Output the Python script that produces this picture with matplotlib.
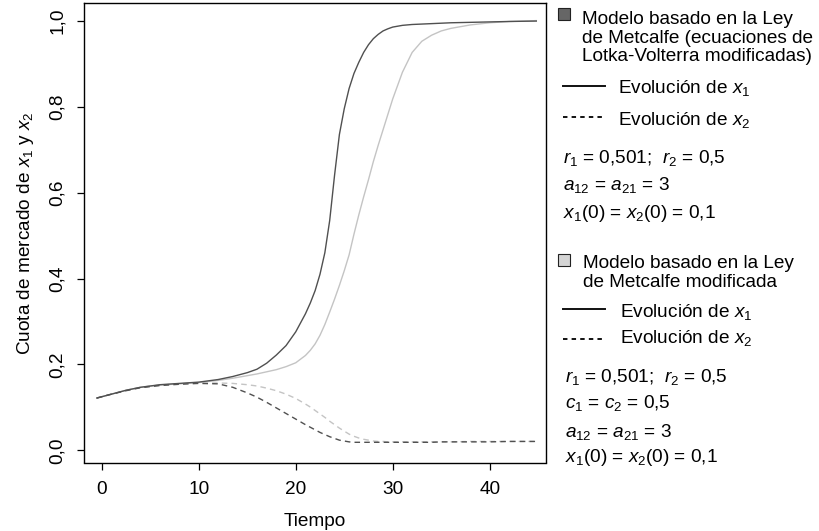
import matplotlib
matplotlib.use("Agg")
import matplotlib.pyplot as plt
from matplotlib.lines import Line2D
from matplotlib.patches import Rectangle

plt.rcParams['font.family'] = ['Liberation Sans', 'DejaVu Sans']
plt.rcParams['mathtext.fontset'] = 'custom'
plt.rcParams['mathtext.rm'] = 'Liberation Sans'
plt.rcParams['mathtext.it'] = 'Liberation Sans:italic'
plt.rcParams['lines.scale_dashes'] = False

# Time points
tiempo = [-0.5, 1, 2.5, 4, 6, 8, 10, 12, 13.5, 15, 16, 17, 18, 19, 20, 21,
          21.5, 22, 22.5, 23, 23.5, 24, 24.5, 25, 25.5, 26, 26.5, 27, 27.5,
          28, 28.5, 29, 29.5, 30, 31, 32, 33, 34, 35, 36, 38, 40, 42, 44.8]

# Lotka-Volterra (Metcalfe) model
x1_lv = [0.122, 0.131, 0.140, 0.147, 0.153, 0.156, 0.159, 0.165, 0.172, 0.181,
         0.189, 0.203, 0.222, 0.244, 0.276, 0.318, 0.343, 0.372, 0.410, 0.460,
         0.535, 0.640, 0.735, 0.795, 0.842, 0.877, 0.903, 0.926, 0.944, 0.958,
         0.968, 0.976, 0.981, 0.985, 0.989, 0.991, 0.992, 0.993, 0.994, 0.995,
         0.996, 0.997, 0.998, 0.999]
x2_lv = [0.122, 0.131, 0.139, 0.146, 0.151, 0.154, 0.156, 0.155, 0.147, 0.134,
         0.124, 0.112, 0.099, 0.086, 0.073, 0.060, 0.054, 0.048, 0.042, 0.037,
         0.032, 0.028, 0.024, 0.022, 0.020, 0.019, 0.019, 0.019, 0.019, 0.019,
         0.019, 0.019, 0.019, 0.019, 0.019, 0.019, 0.019, 0.019, 0.020, 0.020,
         0.020, 0.020, 0.021, 0.021]

# Modified Metcalfe model
x1_mod = [0.122, 0.131, 0.140, 0.147, 0.152, 0.155, 0.158, 0.163, 0.168, 0.174,
          0.178, 0.183, 0.188, 0.195, 0.204, 0.221, 0.233, 0.248, 0.268, 0.293,
          0.322, 0.352, 0.384, 0.418, 0.455, 0.503, 0.548, 0.590, 0.630, 0.672,
          0.710, 0.746, 0.782, 0.818, 0.880, 0.926, 0.952, 0.966, 0.976, 0.982,
          0.990, 0.995, 0.998, 1.000]
x2_mod = [0.122, 0.131, 0.140, 0.147, 0.152, 0.155, 0.157, 0.157, 0.156, 0.153,
          0.150, 0.145, 0.139, 0.131, 0.121, 0.108, 0.101, 0.093, 0.085, 0.077,
          0.068, 0.060, 0.052, 0.045, 0.038, 0.033, 0.029, 0.026, 0.024, 0.022,
          0.021, 0.021, 0.020, 0.020, 0.020, 0.020, 0.020, 0.020, 0.020, 0.020,
          0.021, 0.021, 0.021, 0.021]

ticks_x = [0, 10, 20, 30, 40]
ticks_y = [0.0, 0.2, 0.4, 0.6, 0.8, 1.0]
labels_y = ['0,0', '0,2', '0,4', '0,6', '0,8', '1,0']

dark = '#505050'
light = '#c4c4c4'
fs = 13.7

W, H = 820, 531
fig = plt.figure(figsize=(W / 100, H / 100), dpi=100)
ax = fig.add_axes([84 / W, 1 - 462.5 / H, 462 / W, 459.5 / H])

ax.plot(tiempo, x1_mod, color=light, lw=1.0)
ax.plot(tiempo, x2_mod, color=light, lw=1.0, dashes=(4, 3))
ax.plot(tiempo, x1_lv, color=dark, lw=1.0)
ax.plot(tiempo, x2_lv, color=dark, lw=1.0, dashes=(4, 3))

ax.set_xlim(-1.83, 45.8)
ax.set_ylim(-0.028, 1.041)
ax.set_xticks(ticks_x)
ax.set_yticks(ticks_y)
ax.set_yticklabels(labels_y, rotation=90, va='center')
ax.tick_params(direction='out', length=5, width=0.9, labelsize=fs, pad=8)
for s in ax.spines.values():
    s.set_linewidth(1.0)
ax.set_xlabel('Tiempo', fontsize=fs, labelpad=11)
ax.set_ylabel('Cuota de mercado de $x_1$ y $x_2$', fontsize=fs, labelpad=9)


def fx(px):
    return px / W


def fy(py):
    return 1 - py / H


def txt(px, py, s):
    fig.text(fx(px), fy(py), s, fontsize=fs, va='baseline', ha='left')


def sample(py, dashed=False):
    kw = dict(dashes=(3.2, 3.0)) if dashed else {}
    fig.add_artist(Line2D([fx(563), fx(605)], [fy(py), fy(py)], color='#111111',
                          lw=1.4, transform=fig.transFigure, **kw))


def square(py, color):
    fig.add_artist(Rectangle((fx(558), fy(py + 12)), 12 / W, 12 / H,
                             facecolor=color, edgecolor='#222222', lw=0.8,
                             transform=fig.transFigure))


# first legend block
square(8, '#666666')
txt(582, 24, 'Modelo basado en la Ley')
txt(582, 42.7, 'de Metcalfe (ecuaciones de')
txt(582, 61, 'Lotka-Volterra modificadas)')
sample(86)
txt(618, 92.7, 'Evolución de $x_1$')
sample(117, dashed=True)
txt(618, 125, 'Evolución de $x_2$')
txt(563, 163, '$r_1$ = 0,501;  $r_2$ = 0,5')
txt(563, 190, '$a_{12}$ = $a_{21}$ = 3')
txt(563, 218, '$x_1$(0) = $x_2$(0) = 0,1')

# second legend block
square(254, '#d4d4d4')
txt(583, 268.3, 'Modelo basado en la Ley')
txt(583, 286.7, 'de Metcalfe modificada')
sample(309)
txt(620, 316.7, 'Evolución de $x_1$')
sample(339, dashed=True)
txt(620, 343.3, 'Evolución de $x_2$')
txt(565, 381.7, '$r_1$ = 0,501;  $r_2$ = 0,5')
txt(565, 408.3, '$c_1$ = $c_2$ = 0,5')
txt(565, 436.7, '$a_{12}$ = $a_{21}$ = 3')
txt(565, 461.7, '$x_1$(0) = $x_2$(0) = 0,1')

fig.savefig('out.png', dpi=100)
